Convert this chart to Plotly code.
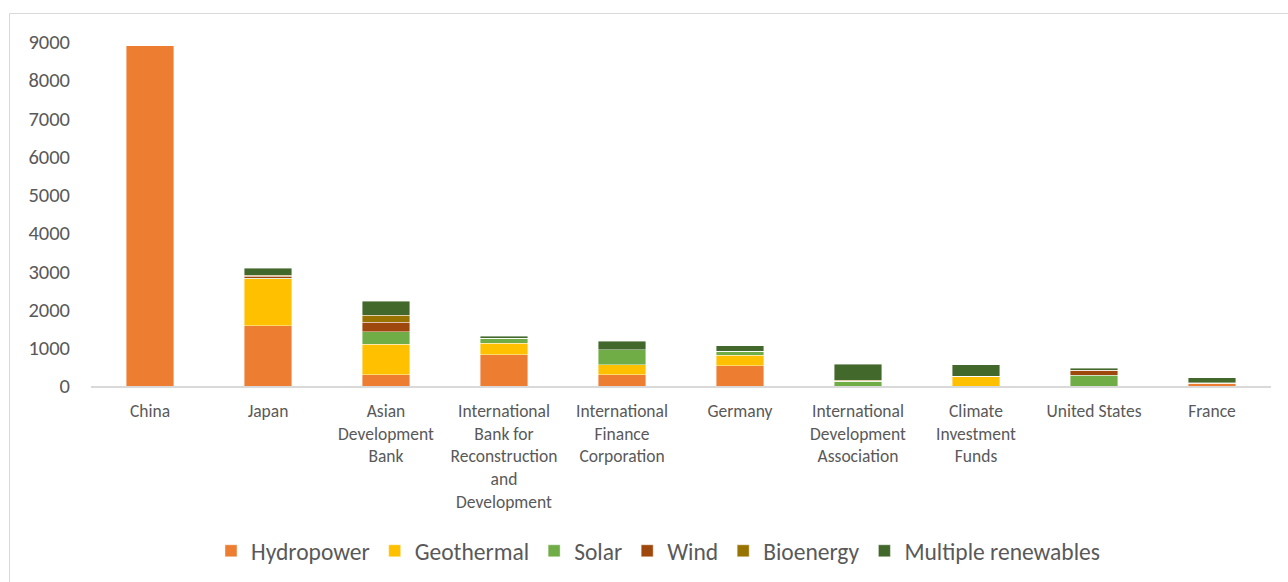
import plotly.graph_objects as go

categories = ["China", "Japan", "Asian<br>Development<br>Bank",
              "International<br>Bank for<br>Reconstruction<br>and<br>Development",
              "International<br>Finance<br>Corporation", "Germany",
              "International<br>Development<br>Association",
              "Climate<br>Investment<br>Funds", "United States", "France"]

hydropower = [8900, 1580, 300, 820, 295, 530, 0, 0, 0, 70]
geothermal = [0, 1220, 795, 305, 255, 270, 0, 255, 0, 0]
solar = [0, 25, 320, 130, 395, 105, 130, 0, 280, 20]
wind = [0, 45, 255, 0, 0, 0, 0, 0, 130, 0]
bioenergy = [0, 25, 185, 0, 0, 0, 25, 0, 0, 0]
multiple = [0, 190, 365, 50, 225, 150, 410, 295, 60, 120]

series = [
    ("Hydropower", hydropower, "#ED7D31"),
    ("Geothermal", geothermal, "#FFC000"),
    ("Solar", solar, "#70AD47"),
    ("Wind", wind, "#9E480E"),
    ("Bioenergy", bioenergy, "#997300"),
    ("Multiple renewables", multiple, "#43682B"),
]

FONT = "Calibri, Carlito, Lato, sans-serif"

fig = go.Figure()
for name, vals, color in series:
    fig.add_trace(go.Bar(
        name=name, x=list(range(len(categories))), y=vals,
        marker=dict(color=color, line=dict(color="rgba(255,255,255,0.6)", width=0.7)),
    ))

W, H = 1288, 582
L, R, T, B = 91, 17, 42, 196
pw, ph = W - L - R, H - T - B

def px_x(px):
    return (px - L) / pw

def px_y(py):
    return (H - B - py) / ph

fig.update_layout(
    width=W, height=H,
    margin=dict(l=L, r=R, t=T, b=B, pad=0, autoexpand=False),
    barmode="stack", bargap=0.6,
    plot_bgcolor="white", paper_bgcolor="white",
    font=dict(family=FONT, color="#595959"),
    xaxis=dict(
        tickmode="array", tickvals=list(range(len(categories))), ticktext=categories,
        range=[-0.5, len(categories) - 0.5],
        showline=True, linecolor="#d9d9d9", linewidth=1.5,
        showgrid=False, zeroline=False, ticks="",
        tickfont=dict(size=17.5, color="#595959", family=FONT),
        ticklabelstandoff=8, automargin=False,
    ),
    yaxis=dict(
        range=[0, 9000], tickvals=[0, 1000, 2000, 3000, 4000, 5000, 6000, 7000, 8000, 9000],
        showgrid=False, zeroline=False, showline=False, ticks="",
        tickfont=dict(size=20.5, color="#595959", family=FONT),
        ticklabelstandoff=20, automargin=False,
    ),
    legend=dict(
        orientation="h", x=px_x(658), xanchor="center", y=px_y(551), yanchor="middle",
        font=dict(size=23.5, color="#595959", family=FONT),
        traceorder="normal", itemwidth=30,
    ),
    shapes=[dict(
        type="rect", xref="paper", yref="paper",
        x0=px_x(9.5), x1=px_x(1295), y0=px_y(590), y1=px_y(13.5),
        line=dict(color="#d9d9d9", width=1), fillcolor="rgba(0,0,0,0)", layer="below",
    )],
)

fig.write_html("out.html")
